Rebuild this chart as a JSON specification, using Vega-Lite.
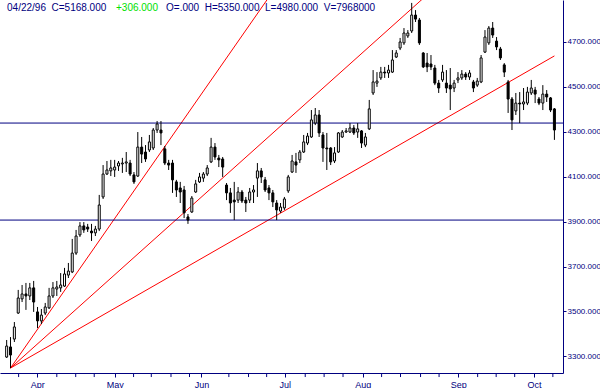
{
  "$schema": "https://vega.github.io/schema/vega-lite/v6.json",
  "width": 563,
  "height": 373,
  "autosize": {"type": "none"},
  "padding": {"left": 0, "top": 0, "right": 37, "bottom": 15},
  "background": "white",
  "config": {"view": {"stroke": null}, "font": "Liberation Sans", "axis": {"labelOverlap": false, "labelFlush": false}},
  "datasets": {
    "candles": [
      {"i":0,"o":3297,"h":3373,"l":3293,"c":3346},
      {"i":1,"o":3342,"h":3386,"l":3248,"c":3306},
      {"i":2,"o":3377,"h":3453,"l":3364,"c":3431},
      {"i":3,"o":3493,"h":3596,"l":3489,"c":3560},
      {"i":4,"o":3556,"h":3618,"l":3542,"c":3578},
      {"i":5,"o":3578,"h":3627,"l":3507,"c":3569},
      {"i":6,"o":3569,"h":3627,"l":3551,"c":3605},
      {"i":7,"o":3605,"h":3636,"l":3498,"c":3542},
      {"i":8,"o":3498,"h":3520,"l":3426,"c":3458},
      {"i":9,"o":3458,"h":3511,"l":3444,"c":3484},
      {"i":10,"o":3493,"h":3538,"l":3484,"c":3520},
      {"i":11,"o":3516,"h":3605,"l":3511,"c":3569},
      {"i":12,"o":3569,"h":3631,"l":3560,"c":3605},
      {"i":13,"o":3600,"h":3636,"l":3569,"c":3609},
      {"i":14,"o":3605,"h":3671,"l":3587,"c":3618},
      {"i":15,"o":3613,"h":3694,"l":3609,"c":3667},
      {"i":16,"o":3662,"h":3716,"l":3649,"c":3680},
      {"i":17,"o":3676,"h":3823,"l":3671,"c":3760},
      {"i":18,"o":3760,"h":3863,"l":3752,"c":3836},
      {"i":19,"o":3841,"h":3898,"l":3832,"c":3881},
      {"i":20,"o":3881,"h":3898,"l":3850,"c":3863},
      {"i":21,"o":3876,"h":3890,"l":3854,"c":3867},
      {"i":22,"o":3858,"h":3890,"l":3814,"c":3850},
      {"i":23,"o":3850,"h":3881,"l":3836,"c":3867},
      {"i":24,"o":3867,"h":4019,"l":3858,"c":3974},
      {"i":25,"o":4010,"h":4152,"l":4001,"c":4112},
      {"i":26,"o":4112,"h":4170,"l":4108,"c":4130},
      {"i":27,"o":4126,"h":4175,"l":4103,"c":4139},
      {"i":28,"o":4130,"h":4175,"l":4099,"c":4143},
      {"i":29,"o":4148,"h":4170,"l":4126,"c":4161},
      {"i":30,"o":4157,"h":4184,"l":4117,"c":4161},
      {"i":31,"o":4161,"h":4210,"l":4121,"c":4166},
      {"i":32,"o":4161,"h":4175,"l":4103,"c":4112},
      {"i":33,"o":4108,"h":4121,"l":4068,"c":4077},
      {"i":34,"o":4103,"h":4299,"l":4099,"c":4232},
      {"i":35,"o":4232,"h":4277,"l":4161,"c":4201},
      {"i":36,"o":4210,"h":4241,"l":4166,"c":4179},
      {"i":37,"o":4219,"h":4286,"l":4210,"c":4255},
      {"i":38,"o":4228,"h":4317,"l":4219,"c":4308},
      {"i":39,"o":4308,"h":4348,"l":4295,"c":4335},
      {"i":40,"o":4308,"h":4348,"l":4241,"c":4295},
      {"i":41,"o":4224,"h":4237,"l":4152,"c":4161},
      {"i":42,"o":4161,"h":4175,"l":4130,"c":4152},
      {"i":43,"o":4161,"h":4175,"l":4028,"c":4086},
      {"i":44,"o":4077,"h":4086,"l":4010,"c":4041},
      {"i":45,"o":4050,"h":4077,"l":3983,"c":4032},
      {"i":46,"o":4041,"h":4059,"l":3916,"c":3939},
      {"i":47,"o":3921,"h":3934,"l":3890,"c":3907},
      {"i":48,"o":3943,"h":4014,"l":3939,"c":4005},
      {"i":49,"o":4032,"h":4086,"l":4028,"c":4068},
      {"i":50,"o":4077,"h":4117,"l":4072,"c":4099},
      {"i":51,"o":4094,"h":4121,"l":4077,"c":4112},
      {"i":52,"o":4112,"h":4152,"l":4103,"c":4139},
      {"i":53,"o":4166,"h":4273,"l":4161,"c":4232},
      {"i":54,"o":4232,"h":4250,"l":4175,"c":4188},
      {"i":55,"o":4183,"h":4197,"l":4143,"c":4175},
      {"i":56,"o":4179,"h":4188,"l":4099,"c":4143},
      {"i":57,"o":4063,"h":4072,"l":3996,"c":4028},
      {"i":58,"o":4028,"h":4050,"l":3939,"c":3983},
      {"i":59,"o":3996,"h":4077,"l":3907,"c":3988},
      {"i":60,"o":3996,"h":4054,"l":3983,"c":4032},
      {"i":61,"o":4032,"h":4041,"l":3983,"c":3992},
      {"i":62,"o":3996,"h":4010,"l":3943,"c":3983},
      {"i":63,"o":3996,"h":4050,"l":3983,"c":4032},
      {"i":64,"o":4032,"h":4063,"l":3983,"c":4041},
      {"i":65,"o":4094,"h":4161,"l":4010,"c":4126},
      {"i":66,"o":4126,"h":4139,"l":4072,"c":4099},
      {"i":67,"o":4086,"h":4099,"l":4032,"c":4041},
      {"i":68,"o":4050,"h":4063,"l":3996,"c":4028},
      {"i":69,"o":4028,"h":4041,"l":3965,"c":3988},
      {"i":70,"o":3983,"h":3996,"l":3907,"c":3952},
      {"i":71,"o":3947,"h":3983,"l":3939,"c":3965},
      {"i":72,"o":3961,"h":4010,"l":3952,"c":4001},
      {"i":73,"o":4037,"h":4108,"l":4028,"c":4099},
      {"i":74,"o":4121,"h":4197,"l":4117,"c":4170},
      {"i":75,"o":4166,"h":4206,"l":4117,"c":4152},
      {"i":76,"o":4175,"h":4219,"l":4161,"c":4210},
      {"i":77,"o":4210,"h":4286,"l":4206,"c":4255},
      {"i":78,"o":4250,"h":4295,"l":4241,"c":4281},
      {"i":79,"o":4277,"h":4397,"l":4273,"c":4353},
      {"i":80,"o":4339,"h":4406,"l":4330,"c":4375},
      {"i":81,"o":4375,"h":4397,"l":4277,"c":4295},
      {"i":82,"o":4286,"h":4299,"l":4166,"c":4228},
      {"i":83,"o":4228,"h":4295,"l":4130,"c":4224},
      {"i":84,"o":4228,"h":4232,"l":4152,"c":4166},
      {"i":85,"o":4170,"h":4232,"l":4161,"c":4206},
      {"i":86,"o":4210,"h":4299,"l":4206,"c":4295},
      {"i":87,"o":4277,"h":4308,"l":4273,"c":4299},
      {"i":88,"o":4299,"h":4317,"l":4295,"c":4304},
      {"i":89,"o":4299,"h":4339,"l":4295,"c":4317},
      {"i":90,"o":4317,"h":4330,"l":4286,"c":4295},
      {"i":91,"o":4299,"h":4339,"l":4273,"c":4313},
      {"i":92,"o":4304,"h":4308,"l":4228,"c":4250},
      {"i":93,"o":4241,"h":4295,"l":4232,"c":4277},
      {"i":94,"o":4313,"h":4442,"l":4308,"c":4402},
      {"i":95,"o":4473,"h":4575,"l":4464,"c":4522},
      {"i":96,"o":4517,"h":4566,"l":4500,"c":4526},
      {"i":97,"o":4540,"h":4589,"l":4531,"c":4566},
      {"i":98,"o":4566,"h":4589,"l":4540,"c":4562},
      {"i":99,"o":4562,"h":4598,"l":4540,"c":4575},
      {"i":100,"o":4566,"h":4664,"l":4562,"c":4620},
      {"i":101,"o":4633,"h":4664,"l":4629,"c":4651},
      {"i":102,"o":4673,"h":4718,"l":4664,"c":4700},
      {"i":103,"o":4696,"h":4762,"l":4687,"c":4740},
      {"i":104,"o":4727,"h":4753,"l":4718,"c":4740},
      {"i":105,"o":4749,"h":4874,"l":4740,"c":4820},
      {"i":106,"o":4820,"h":4842,"l":4789,"c":4802},
      {"i":107,"o":4798,"h":4807,"l":4687,"c":4696},
      {"i":108,"o":4651,"h":4655,"l":4584,"c":4589},
      {"i":109,"o":4606,"h":4651,"l":4566,"c":4589},
      {"i":110,"o":4602,"h":4642,"l":4575,"c":4589},
      {"i":111,"o":4584,"h":4598,"l":4508,"c":4517},
      {"i":112,"o":4517,"h":4531,"l":4473,"c":4495},
      {"i":113,"o":4531,"h":4598,"l":4522,"c":4566},
      {"i":114,"o":4517,"h":4575,"l":4473,"c":4495},
      {"i":115,"o":4508,"h":4584,"l":4397,"c":4491},
      {"i":116,"o":4495,"h":4531,"l":4477,"c":4517},
      {"i":117,"o":4531,"h":4566,"l":4517,"c":4540},
      {"i":118,"o":4540,"h":4575,"l":4531,"c":4557},
      {"i":119,"o":4557,"h":4566,"l":4531,"c":4544},
      {"i":120,"o":4544,"h":4575,"l":4531,"c":4562},
      {"i":121,"o":4522,"h":4531,"l":4477,"c":4495},
      {"i":122,"o":4508,"h":4540,"l":4500,"c":4526},
      {"i":123,"o":4522,"h":4642,"l":4517,"c":4629},
      {"i":124,"o":4655,"h":4753,"l":4651,"c":4722},
      {"i":125,"o":4696,"h":4771,"l":4687,"c":4762},
      {"i":126,"o":4762,"h":4789,"l":4718,"c":4731},
      {"i":127,"o":4704,"h":4722,"l":4664,"c":4678},
      {"i":128,"o":4669,"h":4678,"l":4620,"c":4629},
      {"i":129,"o":4598,"h":4606,"l":4544,"c":4566},
      {"i":130,"o":4522,"h":4531,"l":4384,"c":4446},
      {"i":131,"o":4446,"h":4455,"l":4308,"c":4353},
      {"i":132,"o":4393,"h":4473,"l":4375,"c":4428},
      {"i":133,"o":4428,"h":4477,"l":4339,"c":4424},
      {"i":134,"o":4424,"h":4495,"l":4397,"c":4433},
      {"i":135,"o":4428,"h":4500,"l":4419,"c":4477},
      {"i":136,"o":4473,"h":4531,"l":4464,"c":4495},
      {"i":137,"o":4486,"h":4500,"l":4428,"c":4468},
      {"i":138,"o":4446,"h":4455,"l":4419,"c":4428},
      {"i":139,"o":4428,"h":4508,"l":4397,"c":4468},
      {"i":140,"o":4468,"h":4486,"l":4433,"c":4455},
      {"i":141,"o":4451,"h":4455,"l":4388,"c":4397},
      {"i":142,"o":4402,"h":4406,"l":4264,"c":4308}
    ],
    "fans": [
      {"fan":"a","i":1,"v":3248},{"fan":"a","i":142,"v":6725},
      {"fan":"b","i":1,"v":3248},{"fan":"b","i":142,"v":5418},
      {"fan":"c","i":1,"v":3248},{"fan":"c","i":142,"v":4638}
    ],
    "weeks": [
      {"wk":3.1},{"wk":13},{"wk":17.9},{"wk":22.7},{"wk":32.9},{"wk":37.5},{"wk":42.6},{"wk":47.4},
      {"wk":57.6},{"wk":62.7},{"wk":67.4},{"wk":77.4},{"wk":82.3},{"wk":87.2},{"wk":97.2},{"wk":102.1},
      {"wk":107.3},{"wk":112.1},{"wk":122.1},{"wk":126.9},{"wk":131.7},{"wk":141.6}
    ],
    "levels": [{"lvl":4339},{"lvl":3907}],
    "header": [
      {"part":"a","t":"04/22/96\u00a0 C=5168.000"},
      {"part":"b","t":"+306.000"},
      {"part":"c","t":"O=.000\u00a0 H=5350.000\u00a0 L=4980.000\u00a0 V=7968000"}
    ]
  },
  "layer": [
    {
      "data": {"name": "fans"},
      "mark": {"type": "line", "color": "#ff0000", "strokeWidth": 1, "clip": true},
      "encoding": {
        "x": {"field": "i", "type": "quantitative", "scale": {"domain": [-0.43, 142.93], "nice": false, "zero": false},
          "axis": {"orient": "bottom", "title": null, "grid": false,
            "values": [7.9, 28, 50.5, 72.1, 92.3, 117.1, 136.7],
            "labelExpr": "datum.value < 10 ? 'Apr' : datum.value < 30 ? 'May' : datum.value < 60 ? 'Jun' : datum.value < 80 ? 'Jul' : datum.value < 100 ? 'Aug' : datum.value < 120 ? 'Sep' : 'Oct'",
            "tickSize": 4, "tickColor": "#000080", "domainColor": "#000080", "labelColor": "#000080",
            "labelFont": "Liberation Sans", "labelFontSize": 9, "labelPadding": 3,
            "labelOverlap": false, "labelFlush": false, "labelBound": false}},
        "y": {"field": "v", "type": "quantitative", "scale": {"domain": [3226, 4887], "nice": false, "zero": false},
          "axis": {"orient": "right", "title": null, "grid": false,
            "values": [3300, 3500, 3700, 3900, 4100, 4300, 4500, 4700], "format": ".3f",
            "tickSize": 3, "tickColor": "#000080", "domainColor": "#000080", "labelColor": "#000080",
            "labelFont": "Liberation Sans", "labelFontSize": 8, "labelPadding": 1,
            "labelOverlap": false, "labelFlush": false}},
        "detail": {"field": "fan"}
      }
    },
    {
      "data": {"name": "weeks"},
      "mark": {"type": "rule", "color": "#000080", "strokeWidth": 1},
      "encoding": {
        "x": {"field": "wk", "type": "quantitative", "title": null, "scale": {"domain": [-0.43, 142.93], "nice": false, "zero": false}},
        "y": {"datum": 3226, "type": "quantitative", "scale": {"domain": [3226, 4887], "nice": false, "zero": false}},
        "y2": {"datum": 3208}
      }
    },
    {
      "data": {"name": "levels"},
      "mark": {"type": "rule", "color": "#000080", "strokeWidth": 1},
      "encoding": {
        "y": {"field": "lvl", "type": "quantitative", "title": null, "scale": {"domain": [3226, 4887], "nice": false, "zero": false}}
      }
    },
    {
      "data": {"name": "candles"},
      "mark": {"type": "rule", "color": "black", "strokeWidth": 1},
      "encoding": {
        "x": {"field": "i", "type": "quantitative", "title": null, "scale": {"domain": [-0.43, 142.93], "nice": false, "zero": false}},
        "y": {"field": "l", "type": "quantitative", "title": null, "scale": {"domain": [3226, 4887], "nice": false, "zero": false}},
        "y2": {"field": "h"}
      }
    },
    {
      "data": {"name": "candles"},
      "mark": {"type": "bar", "width": 2, "stroke": "black", "strokeWidth": 1},
      "encoding": {
        "x": {"field": "i", "type": "quantitative", "title": null, "scale": {"domain": [-0.43, 142.93], "nice": false, "zero": false}},
        "y": {"field": "o", "type": "quantitative", "title": null, "scale": {"domain": [3226, 4887], "nice": false, "zero": false}},
        "y2": {"field": "c"},
        "fill": {"condition": {"test": "datum.c >= datum.o", "value": "white"}, "value": "black"}
      }
    },
    {
      "data": {"name": "header"},
      "transform": [{"filter": "datum.part == 'a'"}],
      "mark": {"type": "text", "align": "left", "baseline": "alphabetic", "font": "Liberation Sans", "fontSize": 10, "color": "#000080"},
      "encoding": {
        "text": {"field": "t"},
        "x": {"datum": 0.1, "type": "quantitative", "scale": {"domain": [-0.43, 142.93], "nice": false, "zero": false}},
        "y": {"datum": 4840, "type": "quantitative", "scale": {"domain": [3226, 4887], "nice": false, "zero": false}}
      }
    },
    {
      "data": {"name": "header"},
      "transform": [{"filter": "datum.part == 'b'"}],
      "mark": {"type": "text", "align": "left", "baseline": "alphabetic", "font": "Liberation Sans", "fontSize": 10, "color": "#00e000"},
      "encoding": {
        "text": {"field": "t"},
        "x": {"datum": 28.34, "type": "quantitative", "scale": {"domain": [-0.43, 142.93], "nice": false, "zero": false}},
        "y": {"datum": 4840, "type": "quantitative", "scale": {"domain": [3226, 4887], "nice": false, "zero": false}}
      }
    },
    {
      "data": {"name": "header"},
      "transform": [{"filter": "datum.part == 'c'"}],
      "mark": {"type": "text", "align": "left", "baseline": "alphabetic", "font": "Liberation Sans", "fontSize": 10, "color": "#000080"},
      "encoding": {
        "text": {"field": "t"},
        "x": {"datum": 41.33, "type": "quantitative", "scale": {"domain": [-0.43, 142.93], "nice": false, "zero": false}},
        "y": {"datum": 4840, "type": "quantitative", "scale": {"domain": [3226, 4887], "nice": false, "zero": false}}
      }
    }
  ]
}
